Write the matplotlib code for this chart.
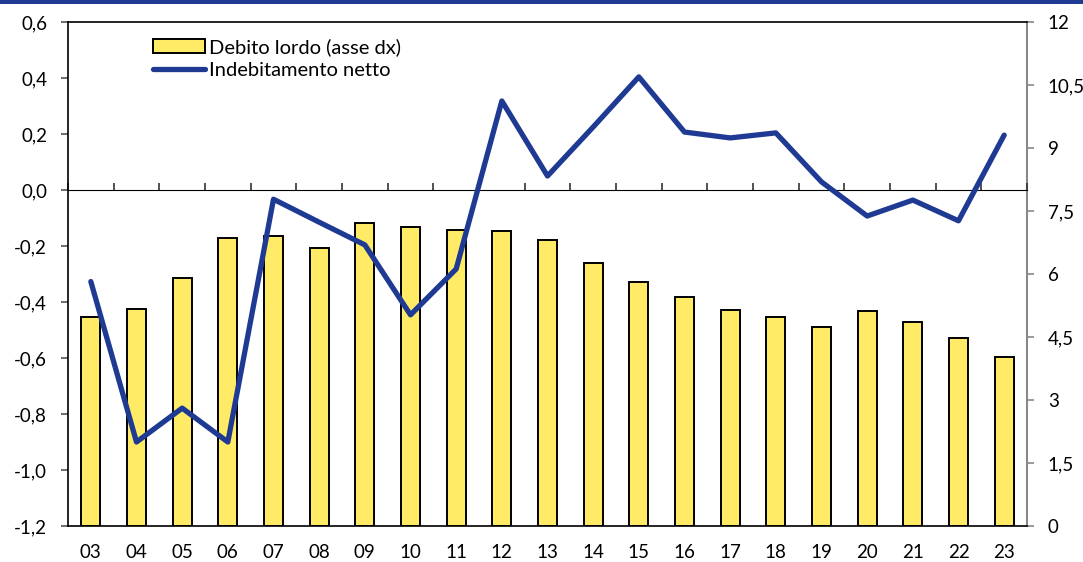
import matplotlib.pyplot as plt
import numpy as np
from matplotlib.patches import Rectangle

plt.rcParams['font.family'] = ['Lato', 'DejaVu Sans']

years = ['03', '04', '05', '06', '07', '08', '09', '10', '11', '12', '13',
         '14', '15', '16', '17', '18', '19', '20', '21', '22', '23']
debito_lordo = [4.98, 5.17, 5.90, 6.86, 6.90, 6.62, 7.21, 7.12, 7.05, 7.02, 6.81,
                6.26, 5.81, 5.45, 5.14, 4.98, 4.74, 5.12, 4.86, 4.48, 4.02]
indebitamento = [-0.327, -0.90, -0.779, -0.90, -0.033, -0.115, -0.196, -0.446, -0.282, 0.318, 0.05,
                 0.225, 0.404, 0.207, 0.186, 0.204, 0.029, -0.093, -0.036, -0.11, 0.196]

blue = '#1F3A93'
yellow = '#FFEB66'

fig = plt.figure(figsize=(10.83, 5.62), dpi=100)
ax = fig.add_axes([68 / 1083, 36 / 562, 959 / 1083, 504 / 562])
ax2 = ax.twinx()

x = np.arange(len(years))

# bars on the right axis, line on the left axis (drawn on top)
ax2.bar(x, debito_lordo, width=0.42, color=yellow, edgecolor='black', linewidth=1.4,
        label='Debito lordo (asse dx)')
ax.plot(x, indebitamento, color=blue, linewidth=3.8, solid_capstyle='round',
        label='Indebitamento netto')
ax.set_zorder(ax2.get_zorder() + 1)
ax.patch.set_visible(False)

ax.set_xlim(-0.5, len(years) - 0.5)
ax.set_ylim(-1.2, 0.6)
ax2.set_ylim(0, 12)

ax.set_yticks(np.arange(-1.2, 0.61, 0.2))
ax.set_yticklabels([f'{v:.1f}'.replace('.', ',').replace('-0,0', '0,0') for v in np.arange(-1.2, 0.61, 0.2)])
rticks = np.arange(0, 12.1, 1.5)
ax2.set_yticks(rticks)
ax2.set_yticklabels([f'{v:g}'.replace('.', ',') for v in rticks])

ax.set_xticks(x)
ax.set_xticklabels(years)
ax.tick_params(axis='x', length=0, pad=13, labelsize=13.5)
ax.tick_params(axis='y', direction='out', length=5, width=1.2, color='#555555', pad=10, labelsize=13.5)
ax2.tick_params(axis='y', direction='out', length=5, width=1.2, color='#888888', pad=10, labelsize=13.5)

for s in ['left', 'top', 'bottom']:
    ax.spines[s].set_color('black')
    ax.spines[s].set_linewidth(1.2)
ax.spines['right'].set_visible(False)
ax2.spines['right'].set_color('#888888')
ax2.spines['right'].set_linewidth(1.5)
for s in ['left', 'top', 'bottom']:
    ax2.spines[s].set_visible(False)

# zero axis line with category boundary ticks
zero_pos = (0 - (-1.2)) / 1.8
sec = ax.secondary_xaxis(zero_pos)
sec.set_xticks(np.arange(-0.5, len(years) - 0.4, 1))
sec.set_xticklabels([])
sec.tick_params(axis='x', direction='out', length=5, width=1.2, color='#333333')
sec.spines['bottom'].set_color('#333333')
sec.spines['bottom'].set_linewidth(1.5)

handles = [ax2.containers[0], ax.get_lines()[0]]
labels = ['Debito lordo (asse dx)', 'Indebitamento netto']
fig.legend(handles, labels, loc='upper left', bbox_to_anchor=(153 / 1083, 1 - 38 / 562),
           frameon=False, fontsize=14.5, handlelength=2.6, handletextpad=0.2,
           labelspacing=0.3, borderpad=0, borderaxespad=0)

# top blue band
fig.add_artist(Rectangle((0, 1 - 4 / 562), 1, 4 / 562, transform=fig.transFigure,
                         color=blue, linewidth=0))

fig.savefig('out.png', dpi=100)
